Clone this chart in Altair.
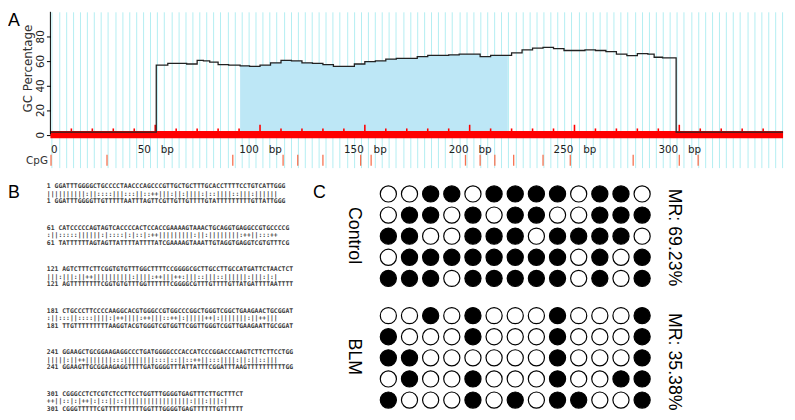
import altair as alt
import numpy as np
import pandas as pd

# ---------------- Panel A data: GC percentage profile ----------------
gc_pos = [0, 50.5, 56, 60, 65, 70, 73, 76, 80, 85,
          90.5, 95, 100, 105, 110, 115, 120, 125, 130, 135,
          140, 145, 150, 155, 160, 165, 170, 175, 180, 185,
          190, 195, 200, 205, 210, 215, 218.2, 220, 225, 230,
          235, 240, 245, 250, 255, 260, 265, 270, 275, 280,
          285, 288, 292, 298.5, 349.5]
gc_pct = [2, 56.5, 58, 58, 57.5, 60.5, 60, 59, 57, 56.5,
          56, 55.5, 56.5, 58.5, 60.5, 60, 58.5, 58, 57, 55.5,
          55.5, 57.5, 59.5, 60, 61.5, 62, 62, 63.5, 64.5, 64.5,
          65, 65.5, 65.5, 63.5, 64.5, 64.5, 64.5, 66.5, 69, 70.5,
          71, 70, 68.5, 68.5, 69, 68.5, 67.5, 65.5, 64.3, 65.9,
          65.5, 63, 62.5, 2, 2]
island_start, island_end = 90.5, 218.2
cpg_sites = [0.3, 27, 87, 111, 118, 130, 148, 153, 198, 205, 212, 221, 235, 248, 278, 300, 309]
bp_labels = [0, 50, 100, 150, 200, 250, 300]
seq_len = 349.5

# ---------------- Panel B data: bisulfite alignment ----------------
seq_start = [1, 61, 121, 181, 241, 301]
seq_top = [
    "GGATTTGGGGCTGCCCCTAACCCAGCCCGTTGCTGCTTTGCACCTTTTCCTGTCATTGGG",
    "CATCCCCCAGTAGTCACCCCACTCCACCGAAAAGTAAACTGCAGGTGAGGCCGTGCCCCG",
    "AGTCTTTCTTCGGTGTGTTTGGCTTTTCCGGGGCGCTTGCCTTGCCATGATTCTAACTCT",
    "CTGCCCTTCCCCAAGGCACGTGGGCCGTGGCCCGGCTGGGTCGGCTGAAGAACTGCGGAT",
    "GGAAGCTGCGGAAGAGGCCCTGATGGGGCCCACCATCCCGGACCCAAGTCTTCTTCCTGG",
    "CGGGCCTCTCGTCTCCTTCCTGGTTTGGGGTGAGTTTCTTGCTTTCT",
]
seq_bis = [
    "GGATTTGGGGTTGTTTTTAATTTAGTTCGTTGTTGTTTTGTATTTTTTTTTGTTATTGGG",
    "TATTTTTTAGTAGTTATTTTATTTTATCGAAAAGTAAATTGTAGGTGAGGTCGTGTTTCG",
    "AGTTTTTTTTCGGTGTGTTTGGTTTTTTCGGGGCGTTTGTTTTGTTATGATTTTAATTTT",
    "TTGTTTTTTTTTAAGGTACGTGGGTCGTGGTTCGGTTGGGTCGGTTGAAGAATTGCGGAT",
    "GGAAGTTGCGGAAGAGGTTTTGATGGGGTTTATTATTTCGGATTTAAGTTTTTTTTTTGG",
    "CGGGTTTTTCGTTTTTTTTTTGGTTTGGGGTGAGTTTTTTGTTTTTT",
]

# ---------------- Panel C data: methylation status ----------------
control_meth = [
    [0, 0, 1, 1, 0, 1, 1, 1, 1, 0, 1, 1, 0],
    [0, 1, 1, 0, 1, 0, 1, 1, 0, 0, 1, 1, 1],
    [1, 1, 0, 0, 1, 1, 1, 0, 1, 1, 1, 1, 0],
    [0, 1, 1, 1, 1, 1, 1, 1, 1, 0, 1, 0, 1],
    [1, 1, 1, 0, 1, 1, 1, 1, 1, 0, 1, 0, 1],
]
blm_meth = [
    [0, 0, 1, 0, 1, 0, 0, 0, 1, 0, 0, 0, 1],
    [1, 0, 0, 0, 1, 0, 0, 0, 1, 0, 0, 0, 1],
    [1, 1, 0, 0, 0, 0, 0, 0, 1, 0, 0, 0, 1],
    [0, 1, 0, 0, 1, 0, 0, 0, 1, 0, 0, 1, 1],
    [1, 0, 0, 0, 1, 0, 1, 0, 1, 1, 0, 0, 1],
]

NB = "\u00a0"
SANS = "DejaVu Sans"
ARIAL = "Liberation Sans"

# ================= Panel A =================
xscale = alt.Scale(domain=[0, seq_len], nice=False, zero=False)
yscale = alt.Scale(domain=[-26.9, 100], nice=False, zero=False)
grid_vals = [round(v, 2) for v in np.arange(0.7, seq_len, 3.35)]
xaxis = alt.Axis(
    values=sorted(grid_vals + bp_labels),
    grid=True, gridColor="#b3eef2", gridWidth=1,
    gridOpacity={"condition": {"test": "datum.value % 50 === 0", "value": 0}, "value": 1},
    ticks=False, tickSize=0, domain=False,
    labelExpr="datum.value % 50 === 0 ? (datum.value === 0 ? '0' : datum.value + '" + NB * 3 + "bp') : ''",
    labelFont=SANS, labelFontSize=10.5, labelColor="#222",
    labelPadding=-18.5, labelBaseline="middle", labelFlush=True, labelOverlap=False,
    title="CpG", titleX=-3, titleY=-7, titleAlign="right", titleBaseline="middle",
    titleAngle=0, titleFont=SANS, titleFontSize=10.5, titleFontWeight="normal", titleColor="#333",
)
yaxis = alt.Axis(
    values=[0, 20, 40, 60, 80], grid=False, domain=False,
    ticks=True, tickSize=4, tickColor="black", tickWidth=1,
    labelAngle=270, labelAlign="center", labelBaseline="bottom", labelPadding=1,
    labelFont=SANS, labelFontSize=10.5, labelColor="#222", labelOverlap=False,
    title="GC Percentage", titleX=-23, titleY=57, titleAngle=270, titleAlign="center",
    titleBaseline="middle", titleFont=SANS, titleFontSize=12, titleFontWeight="normal",
    titleColor="#333",
)
X = alt.X("pos:Q", scale=xscale, axis=xaxis)

def Yq(field):
    return alt.Y(field, scale=yscale, axis=yaxis)

gc_df = pd.DataFrame({"pos": gc_pos, "gc": gc_pct, "base": 0.0})

fill = alt.Chart(gc_df).transform_filter(
    f"datum.pos >= {island_start} && datum.pos <= {island_end}"
).mark_area(interpolate="step-after", color="#bde7f6", opacity=1).encode(
    x=X, y=Yq("gc:Q"), y2="base:Q"
)

redbar_df = pd.DataFrame({"pos": [0.0], "pos_end": [seq_len], "y0": [0.0]})
redbar = alt.Chart(redbar_df).mark_rule(color="#ff0000", strokeWidth=7.5).encode(
    x=X, x2="pos_end:Q", y=Yq("y0:Q")
)

tick_pos = list(range(10, 341, 10))
ticks_df = pd.DataFrame({"pos": tick_pos, "y0": 0.0,
                         "top": [8.0 if p % 50 == 0 else 5.0 for p in tick_pos]})
redticks = alt.Chart(ticks_df).mark_rule(color="#ff0000", strokeWidth=1.6).encode(
    x=X, y=Yq("y0:Q"), y2="top:Q"
)

cpg_df = pd.DataFrame({"pos": cpg_sites, "y0": -16.5, "y1": -25.3})
cpg = alt.Chart(cpg_df).mark_rule(color="#f7714f", strokeWidth=1.3).encode(
    x=X, y=Yq("y0:Q"), y2="y1:Q"
)

gcline = alt.Chart(gc_df).mark_line(interpolate="step-after", color="#222222", strokeWidth=1.3).encode(
    x=X, y=Yq("gc:Q")
)

yline_df = pd.DataFrame({"pos": [0.0], "y0": [0.0], "y1": [100.0]})
yline = alt.Chart(yline_df).mark_rule(color="black", strokeWidth=1).encode(
    x=X, y=Yq("y0:Q"), y2="y1:Q"
)

labA = alt.Chart(pd.DataFrame({"t": ["A"]})).mark_text(
    align="left", baseline="alphabetic", font=ARIAL, fontSize=18, color="black"
).encode(x=alt.value(-43), y=alt.value(14.5), text="t:N")

panelA = alt.layer(fill, redbar, redticks, cpg, gcline, yline, labA).properties(width=743, height=158)

# ================= Panel B =================
full_top = "".join(seq_top)
cpg_idx = set()
for i in range(len(full_top) - 1):
    if full_top[i] == "C" and full_top[i + 1] == "G":
        cpg_idx.update([i, i + 1])

rows = []
offset = 0
for g, (n, t, b) in enumerate(zip(seq_start, seq_top, seq_bis)):
    m = "".join("+" if (offset + j) in cpg_idx else ("|" if tc == bc else ":")
                for j, (tc, bc) in enumerate(zip(t, b)))
    offset += len(t)
    prefix = f"{n:>3} ".replace(" ", NB)
    base_row = g * 5.53
    rows.append({"row": base_row, "line": prefix + t})
    rows.append({"row": base_row + 1, "line": NB * 4 + m})
    rows.append({"row": base_row + 2, "line": prefix + b})
b_df = pd.DataFrame(rows)

b_text = alt.Chart(b_df).mark_text(
    align="left", baseline="middle", font="DejaVu Sans Mono", fontSize=6.5,
    fontWeight="bold", color="#3a3a3a"
).encode(
    x=alt.value(-3.6),
    y=alt.Y("row:Q", scale=alt.Scale(domain=[-0.408, 29.91], reverse=True, nice=False, zero=False), axis=None),
    text="line:N",
)
labB = alt.Chart(pd.DataFrame({"t": ["B"]})).mark_text(
    align="left", baseline="alphabetic", font=ARIAL, fontSize=18, color="black"
).encode(x=alt.value(-43), y=alt.value(14.4), text="t:N")
panelB = alt.layer(b_text, labB).properties(width=256, height=230.4)

# ================= Panel C =================
def meth_chart(meth, group, title_y_left, title_y_right, letter=None):
    recs = []
    for r, row in enumerate(meth):
        for c, v in enumerate(row):
            recs.append({"col": c + 1, "row": r + 1, "m": v})
    df = pd.DataFrame(recs)
    ratio = 100.0 * df["m"].sum() / len(df)
    mr_text = f"MR: {ratio:.2f}%"
    xenc = alt.X("col:O", axis=None)
    left_axis = alt.Axis(
        orient="left", labels=False, ticks=False, domain=False, grid=False,
        title=group, titleAngle=90, titleX=-24.5, titleY=title_y_left,
        titleAlign="center", titleBaseline="middle", titleFont=ARIAL,
        titleFontSize=18, titleFontWeight="normal", titleColor="black",
    )
    right_axis = alt.Axis(
        orient="right", labels=False, ticks=False, domain=False, grid=False,
        title=mr_text, titleAngle=90, titleX=21.5, titleY=title_y_right,
        titleAlign="center", titleBaseline="middle", titleFont=ARIAL,
        titleFontSize=18, titleFontWeight="normal", titleColor="black",
    )
    pts = alt.Chart(df).mark_point(
        shape="circle", filled=True, size=268, stroke="black", strokeWidth=1.2, opacity=1
    ).encode(
        x=xenc,
        y=alt.Y("row:O", axis=left_axis),
        fill=alt.Fill("m:N", scale=alt.Scale(domain=[0, 1], range=["white", "black"]), legend=None),
    )
    ghost = alt.Chart(df).mark_point(opacity=0).encode(
        x=xenc, y=alt.Y("row:O", axis=right_axis)
    )
    layers = [pts, ghost]
    if letter:
        layers.append(
            alt.Chart(pd.DataFrame({"t": [letter]})).mark_text(
                align="left", baseline="alphabetic", font=ARIAL, fontSize=18, color="black"
            ).encode(x=alt.value(-65.6), y=alt.value(14.4), text="t:N")
        )
    return alt.layer(*layers).resolve_axis(y="independent").properties(width=278.8, height=107)

ctrl = meth_chart(control_meth, "Control", 52.4, 54.4, letter="C")
blm = meth_chart(blm_meth, "BLM", 52, 57)
panelC = alt.vconcat(ctrl, blm, spacing=16.4)

row2 = alt.hconcat(panelB, panelC, spacing=10)
chart = alt.vconcat(panelA, row2, spacing=16).properties(
    padding=0, background="white"
).configure_view(stroke=None)

chart.save("out.html", embed_options={"renderer": "svg", "actions": False})
